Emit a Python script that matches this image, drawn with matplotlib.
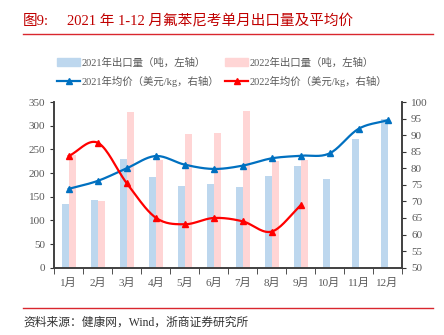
import numpy as np
import matplotlib.pyplot as plt
from matplotlib.lines import Line2D
from matplotlib.patches import Patch

plt.rcParams['font.family'] = ['Liberation Serif', 'Noto Sans CJK SC']

months = ['1月', '2月', '3月', '4月', '5月', '6月', '7月', '8月', '9月', '10月', '11月', '12月']
vol_2021 = [134, 143, 229, 191, 172, 177, 170, 194, 215, 188, 272, 315]
vol_2022 = [238, 141, 328, 228, 283, 284, 330, 225, 227]
price_2021 = [73.8, 76.2, 80.0, 83.7, 81.1, 79.8, 80.8, 83.0, 83.8, 84.5, 91.9, 94.5]
price_2022 = [83.7, 87.7, 75.5, 65.1, 63.1, 65.0, 64.0, 60.9, 68.8]


def smooth(x, y, n=20):
    # Catmull-Rom curve through the points, like Excel's smoothed line
    x = np.asarray(x, float)
    y = np.asarray(y, float)
    px = np.concatenate([[2 * x[0] - x[1]], x, [2 * x[-1] - x[-2]]])
    py = np.concatenate([[2 * y[0] - y[1]], y, [2 * y[-1] - y[-2]]])
    xs, ys = [], []
    t = np.linspace(0, 1, n)
    for i in range(1, len(px) - 2):
        for p, out in ((px, xs), (py, ys)):
            p0, p1, p2, p3 = p[i - 1], p[i], p[i + 1], p[i + 2]
            out.extend(0.5 * ((2 * p1) + (-p0 + p2) * t +
                              (2 * p0 - 5 * p1 + 4 * p2 - p3) * t ** 2 +
                              (-p0 + 3 * p1 - 3 * p2 + p3) * t ** 3))
    return np.array(xs), np.array(ys)


fig = plt.figure(figsize=(4.44, 3.35), dpi=100)
ax = fig.add_axes([0.1223, 0.2009, 0.7831, 0.4946])
ax2 = ax.twinx()

x = np.arange(len(months))
x22 = np.arange(len(vol_2022))
w = 0.24
ax.bar(x - w / 2, vol_2021, width=w, color='#BDD7EE', zorder=1)
ax.bar(x22 + w / 2, vol_2022, width=w, color='#FFD5D5', zorder=1)

sx, sy = smooth(x, price_2021)
ax2.plot(sx, sy, color='#0070C0', lw=1.6)
ax2.plot(x, price_2021, ls='none', marker='^', ms=5, color='#0070C0')
sx, sy = smooth(x22, price_2022)
ax2.plot(sx, sy, color='#FF0000', lw=1.6)
ax2.plot(x22, price_2022, ls='none', marker='^', ms=5, color='#FF0000')

ax.set_xlim(-0.5, 11.5)
ax.set_ylim(0, 350)
ax.set_yticks(range(0, 351, 50))
ax2.set_ylim(50, 100)
ax2.set_yticks(range(50, 101, 5))

ax.set_xticks(x)
ax.set_xticklabels(months)
ax.set_xticks(np.arange(-0.5, 12, 1), minor=True)
ax.tick_params(axis='x', which='major', length=0, pad=7)
ax.tick_params(axis='x', which='minor', length=4, direction='out', color='#333333')
for a in (ax, ax2):
    a.tick_params(axis='y', length=3, color='#333333', labelsize=8, labelcolor='#595959')
    a.tick_params(axis='x', labelsize=8, labelcolor='#595959')
    a.spines['top'].set_visible(False)
    for s in ('left', 'right', 'bottom'):
        a.spines[s].set_color('#404040')
        a.spines[s].set_linewidth(1.2)

handles = [Patch(color='#BDD7EE'),
           Line2D([], [], color='#0070C0', marker='^', ms=5, lw=1.6),
           Patch(color='#FFD5D5'),
           Line2D([], [], color='#FF0000', marker='^', ms=5, lw=1.6)]
labels = ['2021年出口量（吨，左轴）', '2021年均价（美元/kg，右轴）',
          '2022年出口量（吨，左轴）', '2022年均价（美元/kg，右轴）']
fig.legend(handles, labels, ncol=2, loc='center', bbox_to_anchor=(0.5, 0.785),
           frameon=False, fontsize=7.5, handlelength=2.2, handletextpad=0.1,
           columnspacing=0.6, labelspacing=0.75, labelcolor='#595959')

fig.text(0.052, 0.935, '图9:', color='#C00000', fontsize=10.5, va='center')
fig.text(0.15, 0.935, '2021 年 1-12 月氟苯尼考单月出口量及平均价', color='#C00000',
         fontsize=10.5, va='center')
fig.add_artist(Line2D([0.052, 0.975], [0.9, 0.9], color='#D9272E', lw=1))
fig.add_artist(Line2D([0.052, 0.975], [0.082, 0.082], color='#D9272E', lw=1))
fig.text(0.052, 0.036, '资料来源：健康网，Wind，浙商证券研究所', color='#333333',
         fontsize=8.5, va='center')

fig.savefig('out.png', dpi=100)
